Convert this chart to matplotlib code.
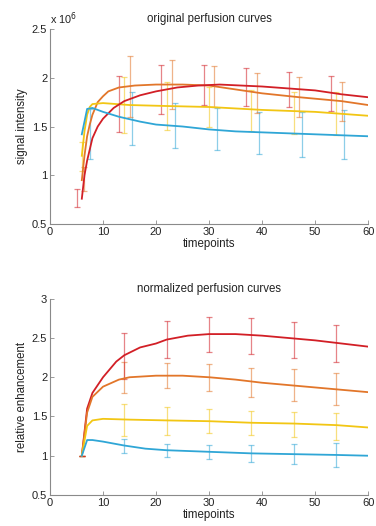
import matplotlib
matplotlib.use("Agg")
import matplotlib.pyplot as plt

plt.rcParams['font.family'] = ['Liberation Sans', 'DejaVu Sans']

# ---------------- data: top panel (signal intensity, x1e6) ----------------
red_x = [6, 6.5, 7, 8, 9, 10, 12, 14, 17, 20, 24, 28, 32, 36, 40, 45, 50, 55, 60]
red_y = [0.76, 1.0, 1.15, 1.38, 1.5, 1.58, 1.69, 1.76, 1.82, 1.86, 1.9, 1.92, 1.93, 1.92, 1.91, 1.89, 1.87, 1.83, 1.80]
org_x = [6, 6.5, 7, 7.5, 8, 9, 10, 11, 13, 16, 20, 25, 30, 35, 40, 47, 55, 60]
org_y = [0.95, 1.2, 1.4, 1.52, 1.62, 1.75, 1.81, 1.86, 1.9, 1.92, 1.93, 1.93, 1.92, 1.88, 1.84, 1.80, 1.76, 1.72]
yel_x = [6, 6.5, 7, 7.5, 8, 10, 15, 22, 30, 40, 50, 60]
yel_y = [1.2, 1.45, 1.62, 1.7, 1.73, 1.74, 1.72, 1.71, 1.70, 1.67, 1.65, 1.61]
blu_x = [6, 7, 8, 9, 10, 13, 17, 20, 25, 30, 35, 40, 50, 60]
blu_y = [1.42, 1.68, 1.69, 1.67, 1.65, 1.6, 1.55, 1.52, 1.5, 1.47, 1.45, 1.44, 1.42, 1.40]

red_ex = [5, 13, 21, 29, 37, 45, 53]
red_em = [0.765, 1.73, 1.88, 1.925, 1.905, 1.875, 1.84]
red_ee = [0.095, 0.29, 0.25, 0.205, 0.195, 0.18, 0.18]
org_ex = [6.5, 15, 23, 31, 39, 47, 55]
org_em = [0.96, 1.91, 1.93, 1.91, 1.845, 1.805, 1.76]
org_ee = [0.12, 0.31, 0.25, 0.21, 0.205, 0.205, 0.2]
yel_ex = [6, 14, 22, 30, 38, 46, 54]
yel_em = [1.19, 1.72, 1.71, 1.70, 1.66, 1.64, 1.63]
yel_ee = [0.15, 0.29, 0.25, 0.2, 0.21, 0.215, 0.22]
blu_ex = [7.5, 15.5, 23.5, 31.5, 39.5, 47.5, 55.5]
blu_em = [1.425, 1.58, 1.51, 1.475, 1.435, 1.42, 1.42]
blu_ee = [0.255, 0.27, 0.23, 0.215, 0.215, 0.23, 0.25]

# ---------------- data: bottom panel (relative enhancement) ----------------
nred_x = [6, 7, 8, 10, 12.5, 14, 17, 20, 22, 26, 30, 35, 40, 45, 50, 55, 60]
nred_y = [1.0, 1.6, 1.8, 2.0, 2.2, 2.28, 2.38, 2.43, 2.48, 2.53, 2.55, 2.55, 2.53, 2.5, 2.47, 2.43, 2.39]
norg_x = [6, 7, 8, 10, 13, 15, 20, 25, 30, 35, 40, 45, 50, 55, 60]
norg_y = [1.0, 1.55, 1.75, 1.88, 1.97, 2.0, 2.02, 2.02, 2.0, 1.97, 1.93, 1.9, 1.87, 1.84, 1.81]
nyel_x = [6, 7, 8, 10, 15, 22, 30, 38, 46, 54, 60]
nyel_y = [1.0, 1.38, 1.45, 1.47, 1.46, 1.45, 1.44, 1.42, 1.41, 1.39, 1.36]
nblu_x = [6, 7, 8, 10, 14, 18, 22, 30, 38, 46, 54, 60]
nblu_y = [1.0, 1.2, 1.2, 1.18, 1.13, 1.09, 1.07, 1.05, 1.03, 1.02, 1.01, 1.0]

nerr_x = [6, 14, 22, 30, 38, 46, 54]
nred_em = [1.0, 2.275, 2.48, 2.545, 2.52, 2.475, 2.435]
nred_ee = [0.0, 0.295, 0.24, 0.225, 0.23, 0.225, 0.235]
norg_em = [1.0, 1.995, 2.02, 1.995, 1.935, 1.9, 1.85]
norg_ee = [0.0, 0.195, 0.16, 0.175, 0.185, 0.2, 0.21]
nyel_em = [1.0, 1.455, 1.445, 1.44, 1.415, 1.4, 1.375]
nyel_ee = [0.0, 0.205, 0.175, 0.15, 0.155, 0.16, 0.175]
nblu_em = [1.0, 1.12, 1.07, 1.05, 1.025, 1.02, 1.01]
nblu_ee = [0.0, 0.09, 0.08, 0.09, 0.11, 0.13, 0.15]

C_RED = "#d21f26"
C_ORG = "#e2762a"
C_YEL = "#f2c614"
C_BLU = "#2fa6d6"

xticks = [0, 10, 20, 30, 40, 50, 60]

fig = plt.figure(figsize=(3.76, 5.26), dpi=100)
ax1 = fig.add_axes([0.133, 0.574, 0.846, 0.371])
ax2 = fig.add_axes([0.133, 0.059, 0.846, 0.373])

def style(ax):
    for s in ["top", "right"]:
        ax.spines[s].set_visible(False)
    for s in ["left", "bottom"]:
        ax.spines[s].set_color("#8a8a8a")
        ax.spines[s].set_linewidth(0.8)
    ax.tick_params(direction="in", length=3, width=0.6, color="#8a8a8a",
                   labelsize=8, pad=2, labelcolor="#222222")
    ax.set_xlim(0, 60)
    ax.set_xticks(xticks)

top_series = [
    (blu_ex, blu_em, blu_ee, C_BLU),
    (yel_ex, yel_em, yel_ee, C_YEL),
    (org_ex, org_em, org_ee, C_ORG),
    (red_ex, red_em, red_ee, C_RED),
]
for ex, em, ee, c in top_series:
    ax1.errorbar(ex, em, yerr=ee, fmt="none", ecolor=c, alpha=0.55,
                 elinewidth=0.9, capsize=2.2, capthick=0.9, zorder=1)
ax1.plot(org_x, org_y, color=C_ORG, lw=1.3, zorder=3)
ax1.plot(red_x, red_y, color=C_RED, lw=1.3, zorder=4)
ax1.plot(yel_x, yel_y, color=C_YEL, lw=1.3, zorder=3)
ax1.plot(blu_x, blu_y, color=C_BLU, lw=1.3, zorder=5)
style(ax1)
ax1.set_ylim(0.5, 2.5)
ax1.set_yticks([0.5, 1, 1.5, 2, 2.5])
ax1.set_yticklabels(["0.5", "1", "1.5", "2", "2.5"])
ax1.set_title("original perfusion curves", fontsize=8.3, pad=5, color="#222222")
ax1.set_xlabel("timepoints", fontsize=8.3, labelpad=1, color="#222222")
ax1.set_ylabel("signal intensity", fontsize=8.3, labelpad=3, color="#222222")
ax1.text(0.0, 1.01, r"x 10$^6$", transform=ax1.transAxes, fontsize=7.8,
         ha="left", va="bottom", color="#222222")

bot_series = [
    (nblu_em, nblu_ee, C_BLU),
    (nyel_em, nyel_ee, C_YEL),
    (norg_em, norg_ee, C_ORG),
    (nred_em, nred_ee, C_RED),
]
for em, ee, c in bot_series:
    ax2.errorbar(nerr_x, em, yerr=ee, fmt="none", ecolor=c, alpha=0.55,
                 elinewidth=0.9, capsize=2.2, capthick=0.9, zorder=1)
ax2.plot(nred_x, nred_y, color=C_RED, lw=1.3, zorder=3)
ax2.plot(norg_x, norg_y, color=C_ORG, lw=1.3, zorder=3)
ax2.plot(nyel_x, nyel_y, color=C_YEL, lw=1.3, zorder=3)
ax2.plot(nblu_x, nblu_y, color=C_BLU, lw=1.3, zorder=3)
style(ax2)
ax2.set_ylim(0.5, 3)
ax2.set_yticks([0.5, 1, 1.5, 2, 2.5, 3])
ax2.set_yticklabels(["0.5", "1", "1.5", "2", "2.5", "3"])
ax2.set_title("normalized perfusion curves", fontsize=8.3, pad=5, color="#222222")
ax2.set_xlabel("timepoints", fontsize=8.3, labelpad=1, color="#222222")
ax2.set_ylabel("relative enhancement", fontsize=8.3, labelpad=3, color="#222222")

fig.savefig("out.png", dpi=100)
